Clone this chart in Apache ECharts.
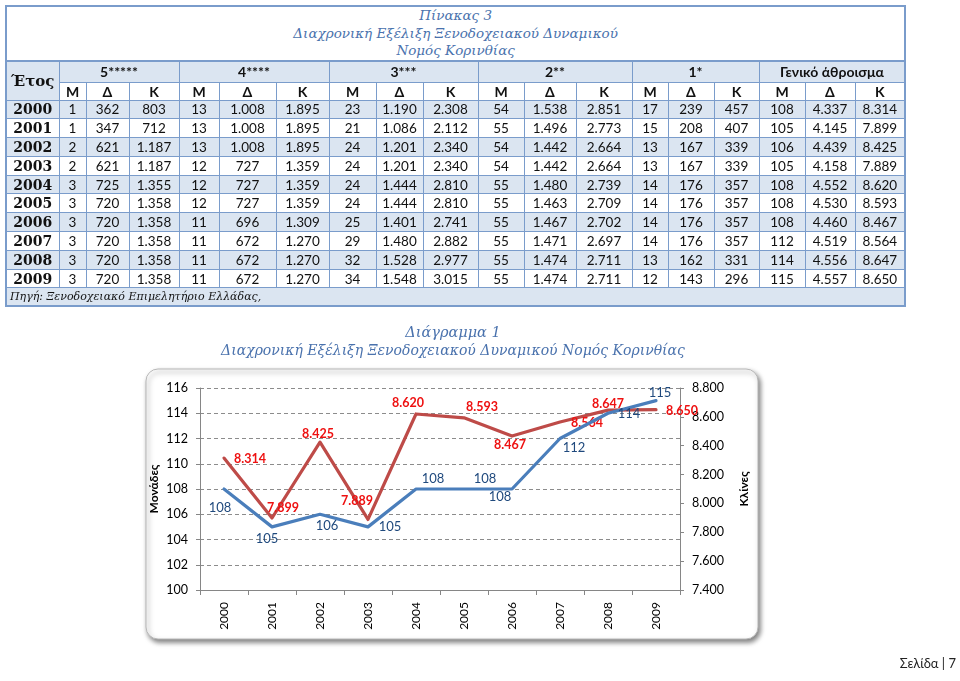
<!DOCTYPE html>
<html>
<head>
<meta charset="utf-8">
<script src="https://cdn.jsdelivr.net/npm/echarts@6/dist/echarts.min.js"></script>
<style>
  html, body { margin:0; padding:0; background:#fff; }
  #page { position:relative; width:960px; height:681px; overflow:hidden; }
  #chart { position:absolute; left:0; top:0; width:960px; height:681px; }
  #tbl { position:absolute; left:5px; top:5px; border-collapse:collapse; table-layout:fixed; width:900px;
         border:2px solid #7a9ccb; font-family:Lato, "Noto Sans", sans-serif; font-size:13.5px; color:#111; }
  #tbl td { border:1px solid #7a9ccb; text-align:center; padding:0; white-space:nowrap; overflow:hidden; }
  #tbl td.yr { font-family:"DejaVu Serif", serif; font-weight:bold; font-size:14px; }
  #tbl tr.sh td { background:#dbe5f1; }
  #tbl td.hd { font-weight:bold; font-size:14px; }
  #tbl td.title { background:#fff; font-family:"DejaVu Serif", serif; font-style:italic; color:#4a72ad;
                  font-size:13.5px; line-height:17.5px; border-bottom:2px solid #7a9ccb; }
  #tbl td.src { text-align:left; padding-left:3px; font-family:"DejaVu Serif", serif; font-style:italic; font-size:11px; background:#dbe5f1; }
  #footer { position:absolute; right:4px; top:655px; font-family:Lato, sans-serif; font-size:13px; color:#222; }
</style>
</head>
<body>
<div id="page">
  <div id="chart"></div>
  <table id="tbl"></table>
  <div id="footer">Σελίδα | 7</div>
</div>
<script>
// ---------- data ----------
const years = ['2000','2001','2002','2003','2004','2005','2006','2007','2008','2009'];
const classNames = ['5*****','4****','3***','2**','1*','Γενικό άθροισμα'];
const subHeads = ['Μ','Δ','Κ'];

const m5 = [1,1,2,2,3,3,3,3,3,3];
const d5 = [362,347,621,621,725,720,720,720,720,720];
const k5 = [803,712,1187,1187,1355,1358,1358,1358,1358,1358];
const m4 = [13,13,13,12,12,12,11,11,11,11];
const d4 = [1008,1008,1008,727,727,727,696,672,672,672];
const k4 = [1895,1895,1895,1359,1359,1359,1309,1270,1270,1270];
const m3 = [23,21,24,24,24,24,25,29,32,34];
const d3 = [1190,1086,1201,1201,1444,1444,1401,1480,1528,1548];
const k3 = [2308,2112,2340,2340,2810,2810,2741,2882,2977,3015];
const m2 = [54,55,54,54,55,55,55,55,55,55];
const d2 = [1538,1496,1442,1442,1480,1463,1467,1471,1474,1474];
const k2 = [2851,2773,2664,2664,2739,2709,2702,2697,2711,2711];
const m1 = [17,15,13,13,14,14,14,14,13,12];
const d1 = [239,208,167,167,176,176,176,176,162,143];
const k1 = [457,407,339,339,357,357,357,357,331,296];
const totalUnits = [108,105,106,105,108,108,108,112,114,115];
const totalRooms = [4337,4145,4439,4158,4552,4530,4460,4519,4556,4557];
const totalBeds = [8314,7899,8425,7889,8620,8593,8467,8564,8647,8650];

const leftTicks = [100,102,104,106,108,110,112,114,116];
const rightTicks = [7400,7600,7800,8000,8200,8400,8600,8800];

const tableTitle = ['Πίνακας 3','Διαχρονική Εξέλιξη Ξενοδοχειακού Δυναμικού','Νομός Κορινθίας'];
const sourceText = 'Πηγή: Ξενοδοχειακό Επιμελητήριο Ελλάδας,';
const chartTitle = 'Διάγραμμα 1';
const chartSubtitle = 'Διαχρονική Εξέλιξη Ξενοδοχειακού Δυναμικού Νομός Κορινθίας';
const leftAxisName = 'Μονάδες';
const rightAxisName = 'Κλίνες';

// ---------- helpers ----------
function fmt(n){ return String(n).replace(/\B(?=(\d{3})+(?!\d))/g, '.'); }

// ---------- table ----------
const colWidths = [53, 27,43,50, 40,57,53, 47,47,55, 46,52,56, 36,46,45, 46,50,50];
const cols = [m5,d5,k5,m4,d4,k4,m3,d3,k3,m2,d2,k2,m1,d1,k1,totalUnits,totalRooms,totalBeds];
let h = '<colgroup>' + colWidths.map(w => '<col style="width:' + w + 'px">').join('') + '</colgroup>';
h += '<tr style="height:55px"><td class="title" colspan="19">' + tableTitle.join('<br>') + '</td></tr>';
h += '<tr class="sh" style="height:21px"><td rowspan="2" class="yr" style="font-size:15px">Έτος</td>' +
     classNames.map(c => '<td colspan="3" class="hd">' + c + '</td>').join('') + '</tr>';
h += '<tr style="height:18px">';
for (let i = 0; i < classNames.length; i++) h += subHeads.map(s => '<td class="hd">' + s + '</td>').join('');
h += '</tr>';
years.forEach((y, r) => {
  h += '<tr' + (r % 2 === 0 ? ' class="sh"' : '') + ' style="height:18.8px"><td class="yr">' + y + '</td>' +
       cols.map(c => '<td>' + fmt(c[r]) + '</td>').join('') + '</tr>';
});
h += '<tr style="height:18px"><td class="src" colspan="19">' + sourceText + '</td></tr>';
document.getElementById('tbl').innerHTML = h;

// ---------- chart ----------
const blueOffsets = [[-4,19],[-5,12],[7,12],[22,0],[17,-10],[21,-10],[-12,8],[14,9],[21,1],[4,-8]];
const redOffsets  = [[26,1],[11,-10],[-2,-8],[-11,-18],[-8,-11],[18,-11],[-2,9],[27,1],[0,-6],[26,1]];

const chart = echarts.init(document.getElementById('chart'), null, {renderer:'canvas'});
const fontFam = 'Lato, "Noto Sans", sans-serif';
chart.setOption({
  animation:false,
  title:[
    {text:chartTitle, left:448, top:321, textAlign:'center',
     textStyle:{fontFamily:'"DejaVu Serif", serif', fontStyle:'italic', fontWeight:'normal', fontSize:14.5, color:'#4a72ad'}},
    {text:chartSubtitle, left:448, top:339, textAlign:'center',
     textStyle:{fontFamily:'"DejaVu Serif", serif', fontStyle:'italic', fontWeight:'normal', fontSize:14, color:'#4a72ad'}}
  ],
  graphic:[
    {type:'rect', z:-10, shape:{x:146, y:369, width:612, height:270, r:12},
     style:{fill:'#fff', stroke:'#b8b8b8', lineWidth:1, shadowBlur:5, shadowOffsetX:2, shadowOffsetY:3, shadowColor:'rgba(0,0,0,0.5)'}}
  ],
  grid:{left:200, right:280, top:388, bottom:91},
  xAxis:{type:'category', data:years, boundaryGap:true,
    axisLine:{lineStyle:{color:'#868686'}},
    axisTick:{show:true, length:5, lineStyle:{color:'#868686'}},
    axisLabel:{rotate:90, margin:12, fontFamily:fontFam, fontSize:12, color:'#000'}},
  yAxis:[
    {type:'value', min:100, max:116, interval:2, position:'left',
     name:leftAxisName, nameLocation:'middle', nameRotate:90, nameGap:40,
     nameTextStyle:{fontFamily:fontFam, fontWeight:'bold', fontSize:12, color:'#000'},
     axisLine:{show:true, lineStyle:{color:'#868686'}},
     axisTick:{show:true, length:4, lineStyle:{color:'#868686'}},
     axisLabel:{margin:12, fontFamily:fontFam, fontSize:12.5, color:'#000', customValues:leftTicks},
     splitLine:{show:true, lineStyle:{color:'#8c8c8c', type:[4,3], width:1}}},
    {type:'value', min:7400, max:8800, interval:200, position:'right',
     name:rightAxisName, nameLocation:'middle', nameRotate:90, nameGap:58,
     nameTextStyle:{fontFamily:fontFam, fontWeight:'bold', fontSize:12, color:'#000'},
     axisLine:{show:true, lineStyle:{color:'#868686'}},
     axisTick:{show:true, length:4, lineStyle:{color:'#868686'}},
     axisLabel:{margin:12, fontFamily:fontFam, fontSize:12.5, color:'#000', formatter:v => fmt(v)},
     splitLine:{show:false}}
  ],
  series:[
    {name:leftAxisName, type:'line', yAxisIndex:0, z:3,
     data: totalUnits.map((v,i) => ({value:v, label:{offset:blueOffsets[i]}})),
     symbol:'circle', symbolSize:0.1, showSymbol:true,
     lineStyle:{color:'#4a7ebb', width:3.2, cap:'round', join:'round'}, itemStyle:{color:'#4a7ebb'},
     label:{show:true, position:'inside', fontFamily:fontFam, fontSize:13, color:'#1f497d'}},
    {name:rightAxisName, type:'line', yAxisIndex:1, z:2,
     data: totalBeds.map((v,i) => ({value:v, label:{offset:redOffsets[i]}})),
     symbol:'circle', symbolSize:0.1, showSymbol:true,
     lineStyle:{color:'#be4b48', width:3.2, cap:'round', join:'round'}, itemStyle:{color:'#be4b48'},
     label:{show:true, position:'inside', fontFamily:fontFam, fontSize:12.5, fontWeight:'bold', color:'#ee1111', formatter:p => fmt(p.value)}}
  ]
});
</script>
</body>
</html>
